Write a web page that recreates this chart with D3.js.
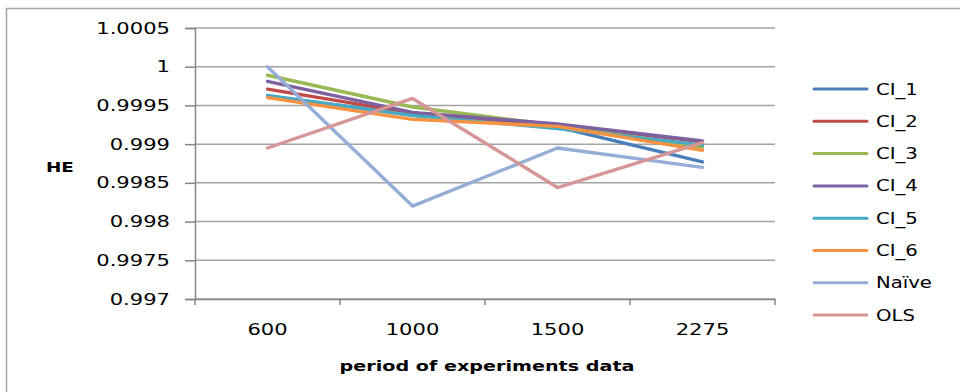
<!DOCTYPE html>
<html>
<head>
<meta charset="utf-8">
<script src="https://cdn.jsdelivr.net/npm/d3@7"></script>
<style>
  body { margin: 0; background: #fff; }
  svg { display: block; }
  text { font-family: "DejaVu Sans", Verdana, sans-serif; fill: #000; }
</style>
</head>
<body>
<svg id="chart" width="960" height="392"></svg>
<script>
// Categories on the x axis (period of experiments data)
const categories = ["600", "1000", "1500", "2275"];

// Series values (HE)
const ci1   = [0.99962, 0.99938, 0.99922, 0.99877];
const ci2   = [0.99971, 0.99940, 0.99925, 0.99903];
const ci3   = [0.99989, 0.99948, 0.99924, 0.99896];
const ci4   = [0.99981, 0.99941, 0.99926, 0.99904];
const ci5   = [0.99963, 0.99937, 0.99920, 0.99899];
const ci6   = [0.99960, 0.99932, 0.99923, 0.99892];
const naive = [1.00000, 0.99820, 0.99895, 0.99870];
const ols   = [0.99895, 0.99959, 0.99844, 0.99902];

const seriesNames  = ["CI_1", "CI_2", "CI_3", "CI_4", "CI_5", "CI_6", "Naïve", "OLS"];
const seriesValues = [ci1, ci2, ci3, ci4, ci5, ci6, naive, ols];
const seriesColors = ["#4A7EBB", "#BE4B48", "#98B954", "#7D60A0", "#46AAC5", "#F69240", "#95AED6", "#D69696"];

// Y axis ticks and their labels
const yTickValues = [0.997, 0.9975, 0.998, 0.9985, 0.999, 0.9995, 1, 1.0005];
const yTickLabels = ["0.997", "0.9975", "0.998", "0.9985", "0.999", "0.9995", "1", "1.0005"];

const svg = d3.select("#chart");

const X0 = 195, X1 = 775, Y0 = 299, Y1 = 28;
const SX = 1.36; // wide lettering

const x = d3.scaleBand().domain(categories).range([X0, X1]);
const y = d3.scaleLinear().domain([0.997, 1.0005]).range([Y0, Y1]);
const cx = c => x(c) + x.bandwidth() / 2;

// Chart frame
svg.append("rect")
  .attr("x", 6.5).attr("y", 8.5)
  .attr("width", 1000).attr("height", 500)
  .attr("fill", "none")
  .attr("stroke", "#a6a6a6")
  .attr("stroke-width", 1.5);

// Horizontal gridlines
svg.append("g").selectAll("line")
  .data(yTickValues)
  .join("line")
  .attr("x1", X0).attr("x2", X1)
  .attr("y1", d => y(d)).attr("y2", d => y(d))
  .attr("stroke", "#a3a3a3")
  .attr("stroke-width", 1.5);

// Y axis
const yAxis = svg.append("g")
  .attr("transform", `translate(${X0},0)`)
  .call(d3.axisLeft(y).tickValues(yTickValues).tickSize(10).tickFormat(() => ""));
yAxis.select(".domain").attr("stroke", "#868686").attr("stroke-width", 1.5);
yAxis.selectAll(".tick line").attr("stroke", "#868686").attr("stroke-width", 1.5);

svg.append("g").selectAll("text")
  .data(yTickValues)
  .join("text")
  .attr("transform", (d) => `translate(170,${y(d)}) scale(${SX},1)`)
  .attr("text-anchor", "end")
  .attr("dy", "0.36em")
  .style("font-size", "15.5px")
  .text((d, i) => yTickLabels[i]);

// X axis
const xAxis = svg.append("g")
  .attr("transform", `translate(0,${Y0})`)
  .call(d3.axisBottom(x).tickSize(0).tickFormat(() => ""));
xAxis.select(".domain").attr("stroke", "#868686").attr("stroke-width", 1.5);

const boundaries = categories.map(c => x(c)).concat([x(categories[categories.length - 1]) + x.bandwidth()]);
svg.append("g").selectAll("line")
  .data(boundaries)
  .join("line")
  .attr("x1", d => d).attr("x2", d => d)
  .attr("y1", Y0).attr("y2", Y0 + 6)
  .attr("stroke", "#868686")
  .attr("stroke-width", 1.5);

svg.append("g").selectAll("text")
  .data(categories)
  .join("text")
  .attr("transform", d => `translate(${cx(d)},335) scale(${SX},1)`)
  .attr("text-anchor", "middle")
  .style("font-size", "15.5px")
  .text(d => d);

// Axis titles
svg.append("text")
  .attr("transform", `translate(${(X0 + X1) / 2 + 2},371) scale(1.42,1)`)
  .attr("text-anchor", "middle")
  .style("font-size", "13.5px")
  .style("font-weight", "bold")
  .text("period of experiments data");

svg.append("text")
  .attr("transform", `translate(46,172) scale(${SX},1)`)
  .style("font-size", "13.5px")
  .style("font-weight", "bold")
  .text("HE");

// Series lines
const line = d3.line()
  .x((d, i) => cx(categories[i]))
  .y(d => y(d));

svg.append("g").selectAll("path")
  .data(seriesValues)
  .join("path")
  .attr("d", d => line(d))
  .attr("fill", "none")
  .attr("stroke", (d, i) => seriesColors[i])
  .attr("stroke-width", 3.4)
  .attr("stroke-linejoin", "round")
  .attr("stroke-linecap", "round");

// Legend
const legend = svg.append("g").selectAll("g")
  .data(seriesNames)
  .join("g")
  .attr("transform", (d, i) => `translate(0,${89 + i * 32.3})`);

legend.append("line")
  .attr("x1", 814).attr("x2", 867)
  .attr("y1", 0).attr("y2", 0)
  .attr("stroke", (d, i) => seriesColors[i])
  .attr("stroke-width", 3)
  .attr("stroke-linecap", "round");

legend.append("text")
  .attr("transform", `translate(876,0) scale(1.27,1)`)
  .attr("dy", "0.36em")
  .style("font-size", "15.5px")
  .text(d => d);
</script>
</body>
</html>
